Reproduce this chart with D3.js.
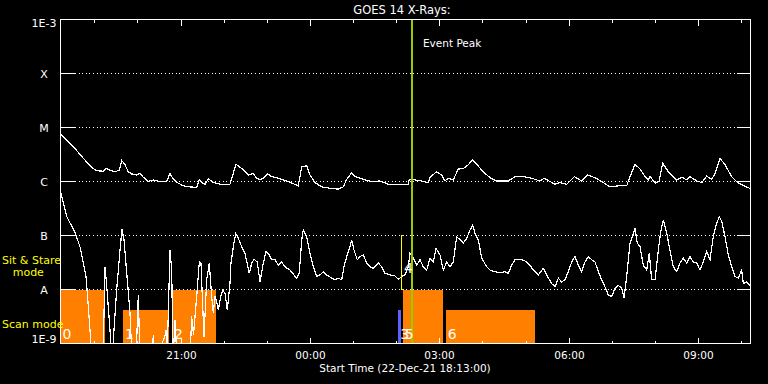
<!DOCTYPE html>
<html><head><meta charset="utf-8">
<script src="https://cdn.jsdelivr.net/npm/d3@7"></script>
<style>html,body{margin:0;background:#000;} svg{display:block;} svg line, svg path, svg rect{shape-rendering:crispEdges;}</style>
</head><body>
<svg id="chart" width="768" height="384"></svg>
<script>
// ---------- DATA ----------
const title = "GOES 14 X-Rays:";
const startLabel = "Start Time (22-Dec-21 18:13:00)";
const startTime = Date.UTC(2021, 11, 22, 18, 13);
const spanHours = 16;

// long channel (1-8 A): hours since start, log10 flux (W/m^2)
const longHours = [0,0.144,0.336,0.529,0.723,0.839,0.992,1.055,1.148,1.264,
1.363,1.419,1.496,1.572,1.651,1.767,1.843,1.920,2.036,2.152,
2.307,2.463,2.539,2.616,2.732,2.848,3.003,3.158,3.219,3.297,
3.351,3.427,3.543,3.699,3.930,4.070,4.202,4.355,4.471,4.549,
4.626,4.703,4.805,4.897,5.050,5.282,5.514,5.593,5.709,5.786,
5.901,6.057,6.289,6.442,6.558,6.636,6.752,6.829,6.945,7.061,
7.216,7.409,7.601,7.756,8.065,8.088,8.220,8.376,8.529,8.568,
8.723,8.839,8.916,8.992,9.108,9.224,9.340,9.456,9.549,9.651,
9.804,9.959,10.115,10.384,10.539,10.732,10.926,11.119,11.218,11.351,
11.467,11.582,11.738,11.914,12.085,12.225,12.394,12.549,12.742,12.934,
13.129,13.206,13.322,13.438,13.554,13.630,13.670,13.786,13.878,13.964,
14.094,14.289,14.405,14.521,14.597,14.753,14.869,14.985,15.101,15.177,
15.293,15.409,15.565,15.717,15.989];
const longLog = [-5.12,-5.23,-5.39,-5.57,-5.74,-5.80,-5.81,-5.76,-5.79,-5.82,
-5.79,-5.61,-5.69,-5.82,-5.86,-5.88,-5.85,-5.92,-6.00,-5.97,
-6.00,-6.00,-5.85,-5.96,-6.03,-6.08,-6.10,-6.11,-5.96,-6.03,
-6.05,-5.95,-6.02,-6.05,-6.05,-5.68,-5.76,-5.88,-5.85,-5.94,
-5.97,-5.94,-5.86,-5.91,-5.94,-6.00,-6.08,-5.73,-5.71,-5.88,
-6.02,-6.10,-6.13,-6.14,-6.10,-5.96,-5.84,-5.91,-5.94,-5.97,
-6.00,-5.99,-6.05,-6.06,-6.06,-5.96,-5.97,-5.99,-6.02,-5.92,
-5.82,-5.88,-5.99,-5.94,-5.97,-5.77,-5.76,-5.69,-5.60,-5.68,
-5.82,-5.93,-5.99,-5.99,-5.91,-5.91,-5.94,-5.99,-5.94,-6.00,
-6.05,-6.02,-6.05,-5.91,-5.99,-5.88,-5.93,-6.00,-6.10,-6.08,
-6.08,-5.91,-5.68,-5.77,-5.91,-5.97,-5.90,-6.03,-6.00,-5.66,
-5.82,-5.97,-5.92,-5.97,-5.91,-5.99,-6.02,-5.90,-5.96,-5.85,
-5.57,-5.69,-5.91,-6.03,-6.13];

// short channel (0.5-4 A): hours since start, log10 flux
const shortHours = [0,0.144,0.336,0.452,0.591,0.645,0.684,0.730,0.986,1.032,
1.078,1.148,1.194,1.303,1.380,1.426,1.472,1.549,1.612,1.658,
1.751,1.804,1.843,2.122,2.152,2.191,2.416,2.446,2.470,2.539,
2.579,2.609,2.655,2.701,3.003,3.042,3.084,3.158,3.219,3.258,
3.288,3.328,3.390,3.450,3.506,3.543,3.583,3.622,3.659,3.715,
3.761,3.814,3.868,3.930,3.953,4.007,4.063,4.123,4.202,4.278,
4.378,4.434,4.487,4.563,4.626,4.703,4.765,4.842,4.897,4.974,
5.050,5.129,5.206,5.322,5.414,5.477,5.537,5.593,5.630,5.709,
5.786,5.862,5.941,6.017,6.094,6.173,6.289,6.365,6.442,6.521,
6.574,6.636,6.713,6.752,6.806,6.882,6.945,7.021,7.100,7.177,
7.253,7.369,7.449,7.525,7.641,7.757,7.833,7.912,7.988,8.065,
8.104,8.181,8.260,8.337,8.412,8.492,8.568,8.644,8.707,8.800,
8.876,8.955,9.032,9.108,9.187,9.264,9.340,9.419,9.496,9.558,
9.612,9.688,9.767,9.883,9.959,10.075,10.191,10.307,10.384,10.462,
10.539,10.655,10.771,10.887,10.963,11.079,11.195,11.274,11.390,11.467,
11.543,11.622,11.699,11.775,11.854,11.930,12.007,12.085,12.162,12.239,
12.318,12.394,12.471,12.549,12.626,12.702,12.781,12.858,12.934,13.013,
13.067,13.129,13.206,13.259,13.322,13.375,13.438,13.514,13.593,13.653,
13.709,13.786,13.862,13.918,13.978,14.057,14.133,14.210,14.289,14.365,
14.441,14.521,14.597,14.674,14.753,14.829,14.906,14.985,15.061,15.138,
15.217,15.277,15.333,15.409,15.486,15.565,15.641,15.717,15.796,15.833,
15.912,15.989];
const shortLog = [-6.19,-6.65,-6.94,-7.21,-7.76,-8.32,-8.75,-9.3,-9.3,-7.58,
-8.0,-8.75,-9.3,-8.0,-7.27,-6.88,-7.08,-7.82,-8.44,-9.3,
-9.3,-8.10,-9.3,-9.3,-8.84,-9.3,-8.88,-8.75,-9.3,-7.27,
-7.64,-9.3,-8.56,-9.3,-9.3,-8.50,-8.84,-8.13,-7.49,-7.51,
-8.13,-8.87,-7.82,-7.51,-8.13,-8.44,-8.13,-8.23,-8.38,-8.13,
-8.01,-8.07,-8.38,-7.89,-7.51,-7.21,-6.96,-7.05,-7.21,-7.33,
-7.70,-7.51,-7.44,-7.49,-7.86,-7.51,-7.30,-7.36,-7.45,-7.45,
-7.55,-7.49,-7.58,-7.64,-7.73,-7.79,-7.70,-7.08,-6.90,-7.02,
-7.33,-7.58,-7.76,-7.73,-7.67,-7.73,-7.79,-7.82,-7.79,-7.82,
-7.58,-7.39,-7.21,-7.08,-7.27,-7.45,-7.39,-7.36,-7.51,-7.58,
-7.61,-7.51,-7.58,-7.70,-7.73,-7.75,-7.81,-7.76,-7.73,-7.58,
-7.33,-7.42,-7.55,-7.45,-7.58,-7.64,-7.42,-7.49,-7.24,-7.36,
-7.64,-7.49,-7.58,-7.49,-7.02,-7.08,-7.14,-7.05,-6.90,-6.81,
-6.96,-7.08,-7.42,-7.58,-7.64,-7.67,-7.69,-7.67,-7.70,-7.55,
-7.45,-7.44,-7.47,-7.55,-7.64,-7.73,-7.61,-7.73,-7.89,-7.95,
-7.79,-7.86,-7.82,-7.67,-7.49,-7.39,-7.55,-7.67,-7.49,-7.39,
-7.45,-7.49,-7.67,-7.82,-7.95,-8.10,-8.13,-7.98,-7.92,-7.98,
-8.16,-7.76,-7.14,-7.02,-6.87,-7.14,-7.21,-7.55,-7.64,-7.33,
-7.82,-7.82,-7.27,-6.93,-6.71,-6.96,-7.27,-7.58,-7.67,-7.51,
-7.42,-7.51,-7.39,-7.49,-7.51,-7.64,-7.49,-7.30,-7.45,-7.02,
-6.77,-6.65,-6.74,-7.02,-7.36,-7.58,-7.76,-7.79,-7.64,-7.89,
-7.86,-7.92];

const levelValues = [1e-9, 1e-8, 1e-7, 1e-6, 1e-5, 1e-4, 1e-3];
const levelLabels = ["1E-9", "A", "B", "C", "M", "X", "1E-3"];

// observing-mode intervals (UTC)
const eventIds   = ["0", "1", "2", "3", "4", "5", "6"];
const eventStart = ["18:13", "19:40", "20:48", "02:03", "02:08", "02:09", "03:09"];
const eventEnd   = ["19:15", "20:44", "21:49", "02:07", "02:10", "03:05", "05:13"];
const eventMode  = ["sit", "scan", "sit", "scanB", "other", "sit", "scan"];
const peakTime = "02:22";
const peakLabel = "Event Peak";

// ---------- CHART ----------
const svg = d3.select("#chart");
svg.append("rect").attr("width", 768).attr("height", 384).attr("fill", "#000");

const L = 60.5, R = 750.5, T = 19.5, B = 343.5;
const FONT = "DejaVu Sans, sans-serif";
const t0 = new Date(startTime), t1 = new Date(startTime + spanHours * 3600e3);
const x = d3.scaleUtc().domain([t0, t1]).range([L, R]);
const y = d3.scaleLog().domain([1e-9, 1e-3]).range([B, T]);
const px = v => Math.round(v - 0.5) + 0.5;

function clock(s) {
  const [h, m] = s.split(":").map(Number);
  const day = h >= 18 ? 22 : 23;
  return new Date(Date.UTC(2021, 11, day, h, m));
}
const hrs = h => new Date(startTime + h * 3600e3);

svg.append("defs").append("clipPath").attr("id", "plot")
  .append("rect").attr("x", L).attr("y", T).attr("width", R - L).attr("height", B - T);

// mode bars
const modeColor = {sit: "#ff8000", scan: "#ff8000", scanB: "#6060ff"};
const modeTop = {sit: 1e-8, scan: 4.2e-9, scanB: 4.2e-9};
const events = eventIds.map((id, i) => ({id, s: clock(eventStart[i]), e: clock(eventEnd[i]), mode: eventMode[i]}));

const gBars = svg.append("g").attr("clip-path", "url(#plot)");
gBars.selectAll("rect").data(events.filter(d => d.mode !== "other")).join("rect")
  .attr("x", d => x(d.s)).attr("width", d => x(d.e) - x(d.s))
  .attr("y", d => y(modeTop[d.mode])).attr("height", d => B - y(modeTop[d.mode]))
  .attr("fill", d => modeColor[d.mode]);

// grid (dotted)
const grid = svg.append("g");
levelValues.slice(1, -1).forEach(v => {
  grid.append("line").attr("x1", L).attr("x2", R).attr("y1", px(y(v))).attr("y2", px(y(v)))
    .attr("stroke", "#fff").attr("stroke-width", 1).attr("stroke-dasharray", "1,2.6");
});

// curves
const line = d3.line().x(d => x(d[0])).y(d => y(d[1]));
const longData = longHours.map((h, i) => [hrs(h), Math.pow(10, longLog[i])]);
const shortData = shortHours.map((h, i) => [hrs(h), Math.pow(10, shortLog[i])]);
const gCurves = svg.append("g").attr("clip-path", "url(#plot)");
[longData, shortData].forEach(data => {
  gCurves.append("path").datum(data).attr("d", line)
    .attr("fill", "none").attr("stroke", "#fff").attr("stroke-width", 1.2);
});

// "other" mode bracket (yellow)
events.filter(d => d.mode === "other").forEach(d => {
  svg.append("path")
    .attr("d", `M${px(x(d.e))},${px(y(1e-7))}H${px(x(d.s))}V${px(y(1e-8))}H${px(x(d.e))}`)
    .attr("fill", "none").attr("stroke", "#ffff00").attr("stroke-width", 1);
});

// event peak line
svg.append("line").attr("x1", x(clock(peakTime))).attr("x2", x(clock(peakTime)))
  .attr("y1", T).attr("y2", B).attr("stroke", "#99cc00").attr("stroke-width", 2);
svg.append("text").attr("x", x(clock(peakTime)) + 11).attr("y", 47)
  .attr("fill", "#fff").attr("font-family", FONT).attr("font-size", 10.5).text(peakLabel);

// event id labels
svg.selectAll("text.eid").data(events).join("text").attr("class", "eid")
  .attr("x", d => x(d.s) + 2)
  .attr("y", d => d.mode === "other" ? 273.3 : 338.5)
  .attr("fill", "#fff").attr("font-family", FONT).attr("font-size", 14).text(d => d.id);

// frame
svg.append("rect").attr("x", L).attr("y", T).attr("width", R - L).attr("height", B - T)
  .attr("fill", "none").attr("stroke", "#fff").attr("stroke-width", 1);

// y ticks (inward, both sides) and labels
levelValues.forEach((v, i) => {
  const yy = y(v);
  svg.append("line").attr("x1", L).attr("x2", L + 14).attr("y1", yy).attr("y2", yy).attr("stroke", "#fff");
  svg.append("line").attr("x1", R - 14).attr("x2", R).attr("y1", yy).attr("y2", yy).attr("stroke", "#fff");
  let ty = yy + 4;
  if (i === levelValues.length - 1) ty = yy + 7.5;
  if (i === 0) ty = yy - 0.5;
  svg.append("text").attr("x", 44).attr("y", ty).attr("text-anchor", "middle")
    .attr("fill", "#fff").attr("font-family", FONT).attr("font-size", 11).text(levelLabels[i]);
});

// x ticks
const ticks = x.ticks(d3.utcHour.every(1));
ticks.forEach(t => {
  const major = t.getUTCHours() % 3 === 0;
  const xx = Math.round(x(t)) + 0.5;
  const len = major ? 6 : 3;
  svg.append("line").attr("x1", xx).attr("x2", xx).attr("y1", T).attr("y2", T + len).attr("stroke", "#fff");
  svg.append("line").attr("x1", xx).attr("x2", xx).attr("y1", B).attr("y2", B - len).attr("stroke", "#fff");
  if (major) {
    svg.append("text").attr("x", xx).attr("y", 359).attr("text-anchor", "middle")
      .attr("fill", "#fff").attr("font-family", FONT).attr("font-size", 10.5)
      .text(d3.utcFormat("%H:%M")(t));
  }
});

// titles
svg.append("text").attr("x", 402).attr("y", 14).attr("text-anchor", "middle")
  .attr("fill", "#fff").attr("font-family", FONT).attr("font-size", 11.5).text(title);
svg.append("text").attr("x", 405).attr("y", 371.5).attr("text-anchor", "middle")
  .attr("fill", "#fff").attr("font-family", FONT).attr("font-size", 10.5).text(startLabel);

// mode legend (yellow)
const yl = (txt, xx, yy) => svg.append("text").attr("x", xx).attr("y", yy)
  .attr("fill", "#ffff00").attr("font-family", FONT).attr("font-size", 11).text(txt);
yl("Sit & Stare", 2, 263.5);
yl("mode", 12.7, 275.7);
yl("Scan mode", 2, 328.3);
</script>
</body></html>
